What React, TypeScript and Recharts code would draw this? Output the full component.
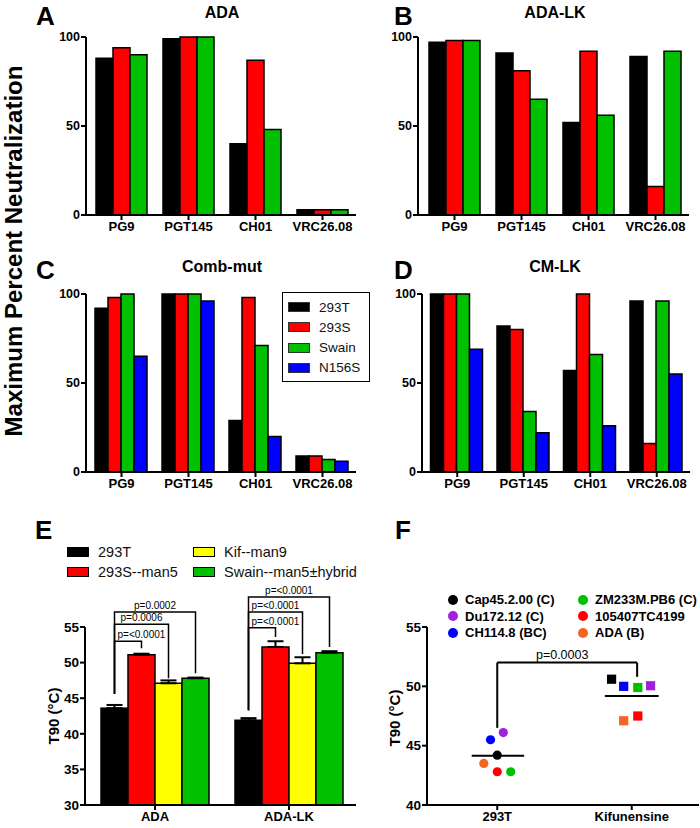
import React from 'react';
import {
  BarChart,
  Bar,
  XAxis,
  YAxis,
  ErrorBar,
  ScatterChart,
  Scatter,
  ReferenceLine
} from 'recharts';

const FONT = '"Liberation Sans", Arial, Helvetica, sans-serif';

// ---- panels A-D: maximum percent neutralization ----
const antibodies = ['PG9', 'PGT145', 'CH01', 'VRC26.08'];
const cellLines = ['293T', '293S', 'Swain', 'N156S'];
const cellColors = ['#000000', '#ff0000', '#00c000', '#0000ff'];

const ada293T = [88, 99, 40, 3];
const ada293S = [94, 100, 87, 3];
const adaSwain = [90, 100, 48, 3];

const adaLk293T = [97, 91, 52, 89];
const adaLk293S = [98, 81, 92, 16];
const adaLkSwain = [98, 65, 56, 92];

const comb293T = [92, 100, 29, 9];
const comb293S = [98, 100, 98, 9];
const combSwain = [100, 100, 71, 7];
const combN156S = [65, 96, 20, 6];

const cmLk293T = [100, 82, 57, 96];
const cmLk293S = [100, 80, 100, 16];
const cmLkSwain = [100, 34, 66, 96];
const cmLkN156S = [69, 22, 26, 55];

// ---- panel E: T90 by glycoform ----
const constructs = ['ADA', 'ADA-LK'];
const glycoForms = ['293T', '293S--man5', 'Kif--man9', 'Swain--man5\u00b1hybrid'];
const glycoColors = ['#000000', '#ff0000', '#ffff00', '#00c000'];
const t90_293T = [43.6, 41.9];
const t90_293S = [51.1, 52.2];
const t90_Kif = [47.1, 49.9];
const t90_Swain = [47.8, 51.4];
const sem_293T = [0.45, 0.3];
const sem_293S = [0.15, 0.8];
const sem_Kif = [0.4, 0.85];
const sem_Swain = [0.1, 0.2];
const E_MIN = 30;
const bracketBase = [45.6, 43.3];
const bracketLevels = [[53.0, 55.4, 57.1], [54.9, 57.1, 59.2]];
const bracketEnds = [[52.0, 47.8, 48.5], [53.6, 51.2, 52.2]];
const bracketLabels = [
  ['p=<0.0001', 'p=0.0006', 'p=0.0002'],
  ['p=<0.0001', 'p=<0.0001', 'p=<0.0001']
];

// ---- panel F: T90 per isolate ----
const treatments = ['293T', 'Kifunensine'];
const isolates = ['Cap45.2.00 (C)', 'Du172.12 (C)', 'CH114.8 (BC)', 'ZM233M.PB6 (C)', '105407TC4199', 'ADA (B)'];
const isolateColors = ['#000000', '#a020e0', '#0000ff', '#00c000', '#ff0000', '#f26522'];
const t90Untreated = [44.2, 46.1, 45.5, 42.8, 42.8, 43.5];
const t90Kifunensine = [50.6, 50.05, 50.0, 49.9, 47.5, 47.1];
const jitterUntreated = [0, 0.045, -0.05, 0.1, 0, -0.1];
const jitterKifunensine = [-0.15, 0.14, -0.06, 0.045, 0.045, -0.06];
const pValueF = 'p=0.0003';
const bracketF = [46.5, 52.0, 50.8];

const axisLine = { stroke: '#000', strokeWidth: 2 };
const tickLine = { stroke: '#000', strokeWidth: 2 };
const tickFont = (size: number) => ({ fill: '#000', fontSize: size, fontWeight: 700, fontFamily: FONT });

function rowsFrom(series: number[][]) {
  return antibodies.map((name, i) => {
    const row: Record<string, any> = { name };
    series.forEach((s, k) => (row[`s${k}`] = s[i]));
    return row;
  });
}

interface NeutPanelProps {
  left: number;
  top: number;
  width: number;
  height: number;
  margin: { top: number; right: number; bottom: number; left: number };
  xHeight: number;
  padLeft: number;
  gap: number;
  series: number[][];
}

function NeutPanel({ left, top, width, height, margin, xHeight, padLeft, gap, series }: NeutPanelProps) {
  const data = rowsFrom(series);
  return (
    <div style={{ position: 'absolute', left, top }}>
      <BarChart width={width} height={height} data={data} margin={margin} barGap={0} barCategoryGap={gap}>
        <XAxis
          dataKey="name"
          height={xHeight}
          padding={{ left: padLeft, right: 0 }}
          axisLine={axisLine}
          tickLine={tickLine}
          tickSize={5}
          tick={tickFont(13)}
          interval={0}
        />
        <YAxis
          width={40}
          domain={[0, 100]}
          ticks={[0, 50, 100]}
          axisLine={axisLine}
          tickLine={tickLine}
          tickSize={5}
          tickMargin={1}
          tick={tickFont(12.5)}
        />
        {series.map((_, k) => (
          <Bar
            key={k}
            dataKey={`s${k}`}
            name={cellLines[k]}
            fill={cellColors[k]}
            stroke="#000"
            strokeWidth={1.5}
            isAnimationActive={false}
          />
        ))}
      </BarChart>
    </div>
  );
}

const eData = constructs.map((name, i) => ({
  name,
  v0: t90_293T[i],
  v1: t90_293S[i],
  v2: t90_Kif[i],
  v3: t90_Swain[i],
  e0: [0, sem_293T[i]],
  e1: [0, sem_293S[i]],
  e2: [0, sem_Kif[i]],
  e3: [0, sem_Swain[i]],
  base: bracketBase[i],
  levels: bracketLevels[i],
  ends: bracketEnds[i],
  labels: bracketLabels[i]
}));

// black bar also draws the significance brackets to its sibling bars
function BracketBar(props: any) {
  const { x, y, width, height, fill, payload } = props;
  const baseline = y + height;
  const ppu = height / (payload.v0 - E_MIN);
  const py = (v: number) => baseline - (v - E_MIN) * ppu;
  const cx = x + width / 2;
  return (
    <g>
      <rect x={x} y={y} width={width} height={height} fill={fill} stroke="#000" strokeWidth={1.5} />
      {payload.levels.map((lvl: number, k: number) => {
        const rx = cx + (k + 1) * width;
        const label = payload.labels[k];
        const tw = label.length * 5.2;
        const span = rx - cx;
        const wide = tw + 6 > span;
        return (
          <g key={k}>
            <path
              d={`M${cx},${py(payload.base)} L${cx},${py(lvl)} L${rx},${py(lvl)} L${rx},${py(payload.ends[k])}`}
              fill="none"
              stroke="#000"
              strokeWidth={1.5}
            />
            <text
              x={wide ? cx + 3 : (cx + rx) / 2}
              y={py(lvl) - 3}
              textAnchor={wide ? 'start' : 'middle'}
              fontSize={10}
              fontFamily={FONT}
              fill="#000"
            >
              {label}
            </text>
          </g>
        );
      })}
    </g>
  );
}

function PanelE() {
  return (
    <div style={{ position: 'absolute', left: 0, top: 470 }}>
      <BarChart
        width={360}
        height={358}
        data={eData}
        margin={{ top: 157, right: 4, bottom: 0, left: 45 }}
        barGap={0}
        barCategoryGap={13}
      >
        <XAxis
          dataKey="name"
          height={23}
          padding={{ left: 3, right: 0 }}
          axisLine={axisLine}
          tickLine={tickLine}
          tickSize={5}
          tick={tickFont(13)}
        />
        <YAxis
          width={40}
          domain={[30, 55]}
          ticks={[30, 35, 40, 45, 50, 55]}
          axisLine={axisLine}
          tickLine={tickLine}
          tickSize={5}
          tickMargin={1}
          tick={tickFont(13.5)}
        />
        {glycoForms.map((g, k) => (
          <Bar
            key={g}
            dataKey={`v${k}`}
            name={g}
            fill={glycoColors[k]}
            stroke="#000"
            strokeWidth={1.5}
            isAnimationActive={false}
            shape={k === 0 ? BracketBar : undefined}
          >
            <ErrorBar dataKey={`e${k}`} width={8} stroke="#000" strokeWidth={2} direction="y" />
          </Bar>
        ))}
      </BarChart>
    </div>
  );
}

function PanelF() {
  const meanU = t90Untreated.reduce((a, b) => a + b, 0) / t90Untreated.length;
  const meanK = t90Kifunensine.reduce((a, b) => a + b, 0) / t90Kifunensine.length;
  const xr = 1.54;
  return (
    <div style={{ position: 'absolute', left: 350, top: 470 }}>
      <ScatterChart width={350} height={358} margin={{ top: 157, right: 1, bottom: 0, left: 37 }}>
        <XAxis
          type="number"
          dataKey="x"
          domain={[0, 2]}
          ticks={[0.5, 1.5]}
          tickFormatter={(v: number) => treatments[Math.round(v - 0.5)]}
          height={23}
          padding={{ left: 3, right: 0 }}
          axisLine={axisLine}
          tickLine={tickLine}
          tickSize={5}
          tick={tickFont(13)}
        />
        <YAxis
          type="number"
          dataKey="y"
          domain={[40, 55]}
          ticks={[40, 45, 50, 55]}
          width={40}
          axisLine={axisLine}
          tickLine={tickLine}
          tickSize={5}
          tickMargin={1}
          tick={tickFont(13.5)}
        />
        {isolates.map((name, i) => (
          <Scatter
            key={name}
            name={name}
            isAnimationActive={false}
            data={[
              { x: 0.5 + jitterUntreated[i], y: t90Untreated[i], g: 0 },
              { x: 1.5 + jitterKifunensine[i], y: t90Kifunensine[i], g: 1 }
            ]}
            shape={(p: any) =>
              p.payload.g === 0 ? (
                <circle cx={p.cx} cy={p.cy} r={4.6} fill={isolateColors[i]} />
              ) : (
                <rect x={p.cx - 4.6} y={p.cy - 4.6} width={9.2} height={9.2} fill={isolateColors[i]} />
              )
            }
          />
        ))}
        <ReferenceLine segment={[{ x: 0.31, y: meanU }, { x: 0.7, y: meanU }]} stroke="#000" strokeWidth={2} ifOverflow="visible" />
        <ReferenceLine segment={[{ x: 1.3, y: meanK }, { x: 1.7, y: meanK }]} stroke="#000" strokeWidth={2} ifOverflow="visible" />
        <ReferenceLine segment={[{ x: 0.5, y: bracketF[0] }, { x: 0.5, y: bracketF[1] }]} stroke="#000" strokeWidth={2} ifOverflow="visible" />
        <ReferenceLine
          segment={[{ x: 0.5, y: bracketF[1] }, { x: xr, y: bracketF[1] }]}
          stroke="#000"
          strokeWidth={2}
          ifOverflow="visible"
          label={{ value: pValueF, position: 'top', fill: '#000', fontSize: 12.5, fontFamily: FONT, dx: -5, offset: 4 }}
        />
        <ReferenceLine segment={[{ x: xr, y: bracketF[1] }, { x: xr, y: bracketF[2] }]} stroke="#000" strokeWidth={2} ifOverflow="visible" />
      </ScatterChart>
    </div>
  );
}

function LegendC() {
  return (
    <div
      style={{
        position: 'absolute',
        left: 282,
        top: 292,
        width: 86,
        height: 88,
        border: '1.5px solid #000',
        background: '#fff',
        fontFamily: FONT,
        fontSize: 13.5,
        color: '#111'
      }}
    >
      {cellLines.map((c, k) => (
        <div key={c} style={{ position: 'absolute', left: 5, top: 5 + k * 20.3, height: 18, display: 'flex', alignItems: 'center' }}>
          <span style={{ display: 'inline-block', width: 20, height: 8, background: cellColors[k], border: '1px solid #333' }} />
          <span style={{ marginLeft: 9 }}>{c}</span>
        </div>
      ))}
    </div>
  );
}

function LegendE() {
  return (
    <div style={{ position: 'absolute', left: 67, top: 542, fontFamily: FONT, fontSize: 14.5, color: '#111' }}>
      {glycoForms.map((g, k) => (
        <div
          key={g}
          style={{
            position: 'absolute',
            left: k < 2 ? 0 : 126,
            top: (k % 2) * 20,
            height: 20,
            display: 'flex',
            alignItems: 'center',
            whiteSpace: 'nowrap'
          }}
        >
          <span style={{ display: 'inline-block', width: 20, height: 8, background: glycoColors[k], border: '1.5px solid #000' }} />
          <span style={{ marginLeft: 9 }}>{g}</span>
        </div>
      ))}
    </div>
  );
}

function LegendF() {
  return (
    <div style={{ position: 'absolute', left: 448, top: 591, fontFamily: FONT, fontSize: 13, fontWeight: 700, color: '#000' }}>
      {isolates.map((name, i) => (
        <div
          key={name}
          style={{
            position: 'absolute',
            left: i < 3 ? 0 : 130,
            top: (i % 3) * 16.5,
            height: 17,
            display: 'flex',
            alignItems: 'center',
            whiteSpace: 'nowrap'
          }}
        >
          <span style={{ display: 'inline-block', width: 10, height: 10, borderRadius: 5, background: isolateColors[i] }} />
          <span style={{ marginLeft: 7 }}>{name}</span>
        </div>
      ))}
    </div>
  );
}

function Overlay() {
  const letter = { fontSize: 26, fontWeight: 700, fontFamily: FONT, fill: '#000' };
  const title = { fontSize: 16, fontWeight: 700, fontFamily: FONT, fill: '#000', textAnchor: 'middle' as const };
  return (
    <svg width={700} height={828} style={{ position: 'absolute', left: 0, top: 0, pointerEvents: 'none' }}>
      <text x={36} y={25} {...letter}>A</text>
      <text x={394} y={25} {...letter}>B</text>
      <text x={36} y={279} {...letter}>C</text>
      <text x={394} y={279} {...letter}>D</text>
      <text x={35} y={539} {...letter}>E</text>
      <text x={395} y={539} {...letter}>F</text>
      <text x={222} y={18} {...title}>ADA</text>
      <text x={555} y={18} {...title}>ADA-LK</text>
      <text x={222} y={272} {...title}>Comb-mut</text>
      <text x={555} y={272} {...title}>CM-LK</text>
      <text
        transform="translate(22,251) rotate(-90)"
        textAnchor="middle"
        fontSize={24}
        fontWeight={700}
        fontFamily={FONT}
        fill="#000"
      >
        Maximum Percent Neutralization
      </text>
      <text transform="translate(59,716) rotate(-90)" textAnchor="middle" fontSize={15} fontWeight={700} fontFamily={FONT} fill="#000">
        T90 (°C)
      </text>
      <text transform="translate(400,718) rotate(-90)" textAnchor="middle" fontSize={15} fontWeight={700} fontFamily={FONT} fill="#000">
        T90 (°C)
      </text>
    </svg>
  );
}

export default function App() {
  return (
    <div style={{ position: 'absolute', left: 0, top: 0, width: 700, height: 828, background: '#fff', fontFamily: FONT }}>
      <NeutPanel
        left={0}
        top={0}
        width={360}
        height={240}
        margin={{ top: 37, right: 4, bottom: 0, left: 46 }}
        xHeight={25}
        padLeft={2}
        gap={8}
        series={[ada293T, ada293S, adaSwain]}
      />
      <NeutPanel
        left={350}
        top={0}
        width={350}
        height={240}
        margin={{ top: 37, right: 11, bottom: 0, left: 28 }}
        xHeight={25}
        padLeft={3}
        gap={8}
        series={[adaLk293T, adaLk293S, adaLkSwain]}
      />
      <NeutPanel
        left={0}
        top={250}
        width={360}
        height={250}
        margin={{ top: 44, right: 4, bottom: 0, left: 46 }}
        xHeight={28}
        padLeft={2}
        gap={7}
        series={[comb293T, comb293S, combSwain, combN156S]}
      />
      <NeutPanel
        left={350}
        top={250}
        width={350}
        height={250}
        margin={{ top: 44, right: 10, bottom: 0, left: 32 }}
        xHeight={28}
        padLeft={2}
        gap={6.5}
        series={[cmLk293T, cmLk293S, cmLkSwain, cmLkN156S]}
      />
      <LegendC />
      <PanelE />
      <LegendE />
      <PanelF />
      <LegendF />
      <Overlay />
    </div>
  );
}
